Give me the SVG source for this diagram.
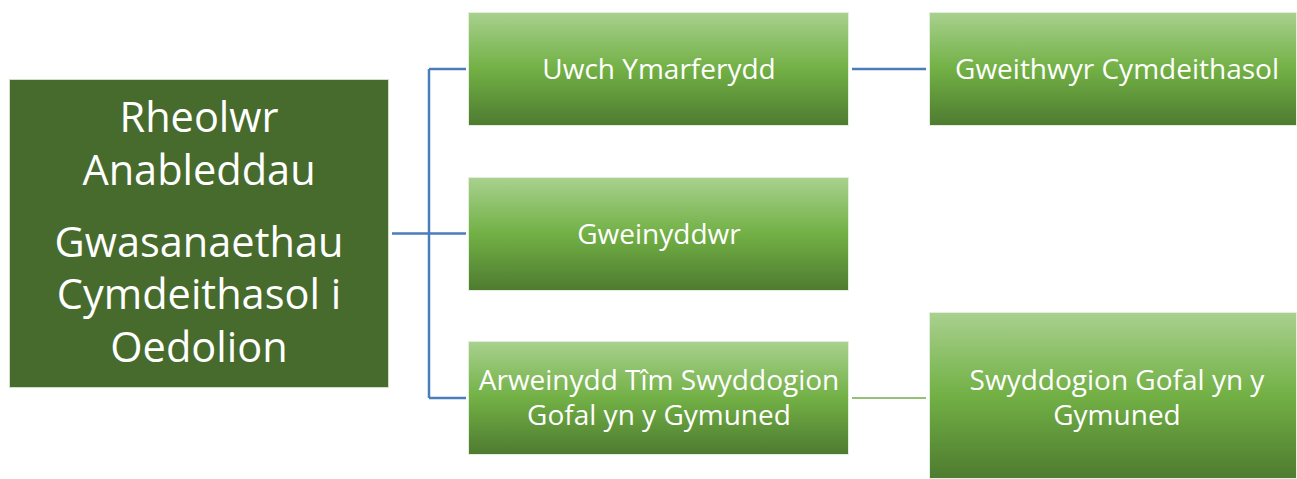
<svg xmlns="http://www.w3.org/2000/svg" width="1297" height="479" viewBox="0 0 1297 479">
<defs>
<linearGradient id="g" x1="0" y1="0" x2="0" y2="1">
<stop offset="0" stop-color="#a8d18e"/>
<stop offset="0.5" stop-color="#72b045"/>
<stop offset="1" stop-color="#4e7b30"/>
</linearGradient>
<style>
.box{fill:url(#g);stroke:#e2efda;stroke-width:1}
.main{fill:#476b2d;stroke:#cfe0c4;stroke-width:1}
.t{font-family:"Open Sans","Noto Sans",sans-serif;fill:#ffffff;text-anchor:middle}
.s{font-size:28px}
.l{font-size:41.5px}
.blue{stroke:#4a7ebb;stroke-width:2.5;fill:none}
.green{stroke:#70ad47;stroke-width:1.5;fill:none}
</style>
</defs>
<rect width="1297" height="479" fill="#ffffff"/>
<g id="connectors">
<path class="blue" d="M392 233.5 H466 M429 69 V398 M429 69 H466 M429 398 H466"/>
<path class="blue" d="M852 69 H926"/>
<path class="green" d="M852 398 H926"/>
</g>
<g id="n-rheolwr">
<rect class="main" x="9.5" y="79.5" width="379" height="308"/>
<text class="t l" x="199" y="132">Rheolwr</text>
<text class="t l" x="199" y="185">Anableddau</text>
<text class="t l" x="199" y="257">Gwasanaethau</text>
<text class="t l" x="199" y="309">Cymdeithasol i</text>
<text class="t l" x="199" y="362">Oedolion</text>
</g>
<g id="n-uwch">
<rect class="box" x="468.5" y="12.5" width="380" height="113"/>
<text class="t s" x="659" y="79">Uwch Ymarferydd</text>
</g>
<g id="n-gweinyddwr">
<rect class="box" x="468.5" y="177.5" width="380" height="113"/>
<text class="t s" x="659" y="244">Gweinyddwr</text>
</g>
<g id="n-arweinydd">
<rect class="box" x="468.5" y="341.5" width="380" height="113"/>
<text class="t s" x="659" y="390">Arweinydd Tîm Swyddogion</text>
<text class="t s" x="659" y="425">Gofal yn y Gymuned</text>
</g>
<g id="n-gweithwyr">
<rect class="box" x="929.5" y="12.5" width="367" height="113"/>
<text class="t s" x="1117" y="79">Gweithwyr Cymdeithasol</text>
</g>
<g id="n-swyddogion">
<rect class="box" x="929.5" y="312.5" width="367" height="166"/>
<text class="t s" x="1117" y="390">Swyddogion Gofal yn y</text>
<text class="t s" x="1117" y="425">Gymuned</text>
</g>
</svg>
